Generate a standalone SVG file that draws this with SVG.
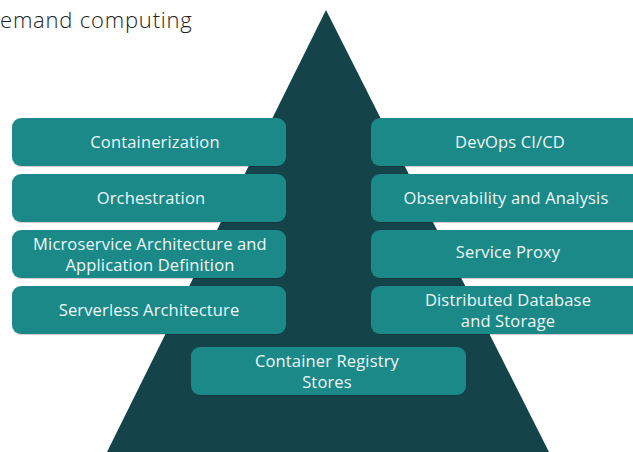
<svg xmlns="http://www.w3.org/2000/svg" width="633" height="452" viewBox="0 0 633 452">
  <style>
    .box { fill: #1b8989; filter: url(#shade); }
    .lbl { fill: #eef7f7; font-family: "Open Sans", "Liberation Sans", sans-serif; font-size: 16.5px; letter-spacing: 0.15px; text-anchor: middle; }
    .title { fill: #222222; font-family: "Open Sans", "Liberation Sans", sans-serif; font-size: 22px; letter-spacing: 0.8px; font-weight: 300; }
  </style>
  <defs>
    <filter id="shade" x="-5%" y="-10%" width="110%" height="130%">
      <feDropShadow dx="0" dy="1" stdDeviation="0.6" flood-color="#000" flood-opacity="0.18"/>
    </filter>
  </defs>
  <rect width="633" height="452" fill="#ffffff"/>

  <text class="title" x="0" y="28">emand computing</text>

  <!-- pyramid backdrop -->
  <polygon id="pyramid" points="326,10 549,452 107,452" fill="#14444a"/>

  <g id="connectors"/>

  <!-- left column -->
  <g id="containerization">
    <rect class="box" x="12" y="118" width="274" height="48" rx="9"/>
    <text class="lbl" x="155" y="148">Containerization</text>
  </g>
  <g id="orchestration">
    <rect class="box" x="12" y="174" width="274" height="48" rx="9"/>
    <text class="lbl" x="151" y="204">Orchestration</text>
  </g>
  <g id="microservice">
    <rect class="box" x="12" y="230" width="274" height="48" rx="9"/>
    <text class="lbl" x="150" y="249.5">Microservice Architecture and<tspan x="150" dy="21">Application Definition</tspan></text>
  </g>
  <g id="serverless">
    <rect class="box" x="12" y="286" width="274" height="48" rx="9"/>
    <text class="lbl" x="149" y="316">Serverless Architecture</text>
  </g>

  <!-- right column -->
  <g id="devops">
    <rect class="box" x="371" y="118" width="274" height="48" rx="9"/>
    <text class="lbl" x="510" y="148">DevOps CI/CD</text>
  </g>
  <g id="observability">
    <rect class="box" x="371" y="174" width="274" height="48" rx="9"/>
    <text class="lbl" x="506" y="204">Observability and Analysis</text>
  </g>
  <g id="service-proxy">
    <rect class="box" x="371" y="230" width="274" height="48" rx="9"/>
    <text class="lbl" x="508" y="258">Service Proxy</text>
  </g>
  <g id="distributed-db">
    <rect class="box" x="371" y="286" width="274" height="48" rx="9"/>
    <text class="lbl" x="508" y="306">Distributed Database<tspan x="508" dy="21">and Storage</tspan></text>
  </g>

  <!-- bottom -->
  <g id="registry">
    <rect class="box" x="191" y="347" width="275" height="48" rx="9"/>
    <text class="lbl" x="327" y="367">Container Registry<tspan x="327" dy="21">Stores</tspan></text>
  </g>
</svg>
